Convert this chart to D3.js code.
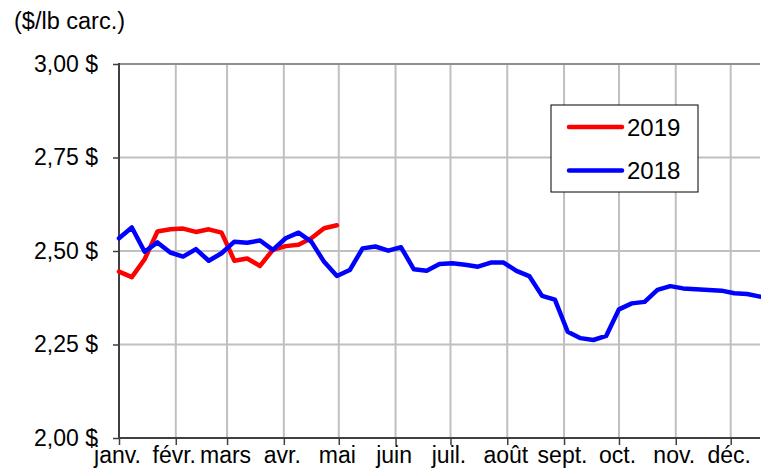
<!DOCTYPE html>
<html>
<head>
<meta charset="utf-8">
<script src="https://cdn.jsdelivr.net/npm/d3@7"></script>
<style>
  body { margin: 0; background: #fff; }
  svg { font-family: "Liberation Sans", Arial, sans-serif; }
</style>
</head>
<body>
<svg id="chart"></svg>
<script>
// weekly prices, $/lb carcass
const series2019 = [2.445, 2.430, 2.478, 2.552, 2.558, 2.560, 2.551, 2.558, 2.549, 2.474,
  2.480, 2.460, 2.503, 2.513, 2.517, 2.534, 2.561, 2.569];
const series2018 = [2.534, 2.563, 2.498, 2.523, 2.496, 2.485, 2.505, 2.474, 2.494, 2.525,
  2.522, 2.528, 2.503, 2.534, 2.549, 2.525, 2.471, 2.433, 2.449, 2.507,
  2.512, 2.501, 2.510, 2.451, 2.447, 2.465, 2.467, 2.463, 2.458, 2.469,
  2.469, 2.447, 2.433, 2.380, 2.370, 2.284, 2.267, 2.262, 2.273, 2.344,
  2.360, 2.364, 2.396, 2.406, 2.400, 2.398, 2.396, 2.394, 2.387, 2.385, 2.378];
const monthLabels = ["janv.", "févr.", "mars", "avr.", "mai", "juin", "juil.", "août", "sept.", "oct.", "nov.", "déc."];
const yTicks = [2.00, 2.25, 2.50, 2.75, 3.00];
const legendItems = [{ name: "2019", color: "#ff0000" }, { name: "2018", color: "#0000ff" }];

const width = 761, height = 472;
const m = { left: 119, right: 760, top: 64, bottom: 438 };
const fontSize = 23;

const svg = d3.select("#chart").attr("width", width).attr("height", height);

const start = new Date(2018, 0, 1);
const x = d3.scaleTime()
  .domain([start, new Date(2018, 11, 17)])
  .range([m.left, m.right]);
const y = d3.scaleLinear().domain([2, 3]).range([m.bottom, m.top]);

const weekDate = (d, i) => d3.timeDay.offset(start, 7 * i);
const months = d3.timeMonth.range(start, new Date(2018, 11, 2));

const fr = d3.formatLocale({ decimal: ",", thousands: " ", grouping: [3], currency: ["", " $"] });
const fmt = fr.format("$.2f");

// grid
svg.append("g").selectAll("line")
  .data(months.slice(1))
  .enter().append("line")
  .attr("x1", d => x(d)).attr("x2", d => x(d))
  .attr("y1", m.top).attr("y2", m.bottom)
  .attr("stroke", "#c0c0c0").attr("stroke-width", 2);

svg.append("g").selectAll("line")
  .data(yTicks.slice(1))
  .enter().append("line")
  .attr("x1", m.left).attr("x2", m.right)
  .attr("y1", d => y(d)).attr("y2", d => y(d))
  .attr("stroke", d => d === 3 ? "#909090" : "#c0c0c0").attr("stroke-width", 2);

// axes
const yAxis = svg.append("g")
  .attr("transform", "translate(" + m.left + ",0)")
  .call(d3.axisLeft(y).tickValues(yTicks).tickFormat(fmt).tickSize(6).tickPadding(15));
yAxis.select(".domain").attr("stroke", "#404040").attr("stroke-width", 2)
  .attr("d", "M0," + (m.top - 1) + "V" + m.bottom);
yAxis.selectAll(".tick line").attr("stroke", "#404040").attr("stroke-width", 1.5);
yAxis.selectAll("text").attr("font-size", fontSize).attr("fill", "#000");

const xAxis = svg.append("g")
  .attr("transform", "translate(0," + m.bottom + ")")
  .call(d3.axisBottom(x).tickValues(months).tickSize(7).tickPadding(2)
    .tickFormat((d, i) => monthLabels[i]));
xAxis.select(".domain").attr("stroke", "#404040").attr("stroke-width", 2)
  .attr("d", "M" + m.left + ",0H" + m.right);
xAxis.selectAll(".tick line").attr("stroke", "#404040").attr("stroke-width", 1.5);
xAxis.selectAll("text").attr("font-size", fontSize).attr("fill", "#000").attr("dx", -2);
svg.selectAll("g[font-family]").attr("font-family", null);

// lines
const line = d3.line()
  .x((d, i) => x(weekDate(d, i)))
  .y(d => y(d));

svg.append("path").datum(series2019)
  .attr("d", line).attr("fill", "none")
  .attr("stroke", "#ff0000").attr("stroke-width", 4.5)
  .attr("stroke-linejoin", "round").attr("stroke-linecap", "round");

svg.append("path").datum(series2018)
  .attr("d", line).attr("fill", "none")
  .attr("stroke", "#0000ff").attr("stroke-width", 4.5)
  .attr("stroke-linejoin", "round").attr("stroke-linecap", "round");

// unit label
svg.append("text").attr("x", 14).attr("y", 29)
  .attr("font-size", 23.5).text("($/lb carc.)");

// legend
const lg = svg.append("g");
lg.append("rect").attr("x", 551).attr("y", 105).attr("width", 147).attr("height", 87)
  .attr("fill", "#fff").attr("stroke", "#000").attr("stroke-width", 1);
const item = lg.selectAll(".item").data(legendItems).enter().append("g")
  .attr("transform", (d, i) => "translate(0," + (127 + i * 43.5) + ")");
item.append("line").attr("x1", 569).attr("x2", 622)
  .attr("stroke", d => d.color).attr("stroke-width", 4.5).attr("stroke-linecap", "round");
item.append("text").attr("x", 627).attr("dy", "0.36em")
  .attr("font-size", 24).text(d => d.name);
</script>
</body>
</html>
